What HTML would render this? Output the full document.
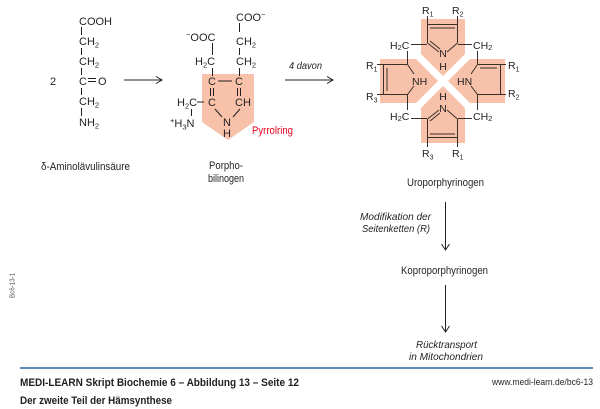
<!DOCTYPE html>
<html><head><meta charset="utf-8"><style>
html,body{margin:0;padding:0;background:#fff;}
svg{display:block;}
text{font-family:"Liberation Sans",sans-serif;fill:#231f20;}
</style></head><body>
<svg width="600" height="409" viewBox="0 0 600 409" xmlns="http://www.w3.org/2000/svg">
<g font-size="11">
<!-- δ-Aminolävulinsäure -->
<text x="50" y="85">2</text>
<text x="79" y="25">COOH</text>
<text x="79" y="45">CH<tspan font-size="7.5" dy="2.5">2</tspan></text>
<text x="79" y="65">CH<tspan font-size="7.5" dy="2.5">2</tspan></text>
<text x="79" y="85">C</text>
<text x="98" y="85">O</text>
<text x="79" y="105">CH<tspan font-size="7.5" dy="2.5">2</tspan></text>
<text x="79" y="126">NH<tspan font-size="7.5" dy="2.5">2</tspan></text>
</g>
<g stroke="#231f20" stroke-width="1" fill="none">
<line x1="81.5" y1="27" x2="81.5" y2="35"/>
<line x1="81.5" y1="48" x2="81.5" y2="55"/>
<line x1="81.5" y1="68" x2="81.5" y2="75"/>
<line x1="88" y1="78.5" x2="96" y2="78.5"/>
<line x1="88" y1="81.5" x2="96" y2="81.5"/>
<line x1="81.5" y1="88" x2="81.5" y2="95"/>
<line x1="81.5" y1="108" x2="81.5" y2="116"/>
<!-- arrow 1 -->
<line x1="124" y1="80" x2="161" y2="80"/>
<polyline points="156,76.5 162,80 156,83.5"/>
<!-- arrow 2 -->
<line x1="285" y1="80" x2="332" y2="80"/>
<polyline points="327,76.5 333,80 327,83.5"/>
</g>
<text x="41" y="170" font-size="11" textLength="89" lengthAdjust="spacingAndGlyphs">δ-Aminolävulinsäure</text>

<!-- Porphobilinogen -->
<polygon points="202,74 254,74 254,122 228,140 202,122" fill="#f7c2a9"/>
<g font-size="11">
<text x="236" y="21">COO<tspan font-size="7.5" dy="-4">−</tspan></text>
<text x="236" y="45">CH<tspan font-size="7.5" dy="2.5">2</tspan></text>
<text x="236" y="65">CH<tspan font-size="7.5" dy="2.5">2</tspan></text>
<text x="186" y="41"><tspan font-size="7.5" dy="-4">−</tspan><tspan dy="4">OOC</tspan></text>
<text x="195" y="65">H<tspan font-size="7.5" dy="2.5">2</tspan><tspan dy="-2.5">C</tspan></text>
<text x="208" y="85">C</text>
<text x="235" y="85">C</text>
<text x="208" y="106">C</text>
<text x="235" y="106">CH</text>
<text x="177" y="106">H<tspan font-size="7.5" dy="2.5">2</tspan><tspan dy="-2.5">C</tspan></text>
<text x="170" y="127"><tspan font-size="7.5" dy="-4">+</tspan><tspan dy="4">H</tspan><tspan font-size="7.5" dy="2.5">3</tspan><tspan dy="-2.5">N</tspan></text>
<text x="223" y="126">N</text>
<text x="223" y="137">H</text>
</g>
<text x="252" y="134" font-size="11" fill="#e2001a" style="fill:#e2001a" textLength="41" lengthAdjust="spacingAndGlyphs">Pyrrolring</text>
<g stroke="#231f20" stroke-width="1" fill="none">
<line x1="239.5" y1="23" x2="239.5" y2="32"/>
<line x1="239.5" y1="48" x2="239.5" y2="55"/>
<line x1="239.5" y1="68" x2="239.5" y2="76"/>
<line x1="212.5" y1="43" x2="212.5" y2="55"/>
<line x1="212.5" y1="68" x2="212.5" y2="76"/>
<line x1="218" y1="81" x2="232" y2="81"/>
<line x1="210.5" y1="88" x2="210.5" y2="96"/>
<line x1="213.5" y1="88" x2="213.5" y2="96"/>
<line x1="237.5" y1="88" x2="237.5" y2="96"/>
<line x1="240.5" y1="88" x2="240.5" y2="96"/>
<line x1="197" y1="102" x2="204" y2="102"/>
<line x1="191.5" y1="109" x2="191.5" y2="116"/>
<line x1="215" y1="109" x2="222" y2="117"/>
<line x1="240" y1="109" x2="233" y2="117"/>
</g>
<text x="226" y="169" font-size="11" text-anchor="middle" textLength="34" lengthAdjust="spacingAndGlyphs">Porpho-</text>
<text x="226" y="182" font-size="11" text-anchor="middle" textLength="36" lengthAdjust="spacingAndGlyphs">bilinogen</text>
<text x="289" y="69" font-size="10" font-style="italic" textLength="33" lengthAdjust="spacingAndGlyphs">4 davon</text>

<!-- Uroporphyrinogen -->
<polygon points="421,19 465,19 465,59 505,59 505,103 465,103 465,143 421,143 421,103 380,103 380,59 421,59" fill="#f7c2a9"/>
<g stroke="#fff" stroke-width="7">
<line x1="408" y1="46" x2="478" y2="116"/>
<line x1="478" y1="46" x2="408" y2="116"/>
</g>
<g stroke="#3a2e2a" stroke-width="1" fill="none">
<!-- top ring -->
<line x1="427.5" y1="16" x2="427.5" y2="43"/>
<line x1="457.5" y1="16" x2="457.5" y2="43"/>
<line x1="427" y1="24.5" x2="458" y2="24.5"/>
<line x1="430" y1="28" x2="455" y2="28"/>
<line x1="427.5" y1="43" x2="439" y2="52"/>
<line x1="430" y1="41" x2="440" y2="49"/>
<line x1="457.5" y1="43" x2="447" y2="52"/>
<line x1="411" y1="44.5" x2="427" y2="44.5"/>
<line x1="458" y1="44.5" x2="472" y2="44.5"/>
<!-- bottom ring -->
<line x1="427.5" y1="119" x2="427.5" y2="147"/>
<line x1="457.5" y1="119" x2="457.5" y2="147"/>
<line x1="427" y1="137.5" x2="458" y2="137.5"/>
<line x1="430" y1="134" x2="455" y2="134"/>
<line x1="427.5" y1="119" x2="439" y2="110"/>
<line x1="430" y1="121" x2="440" y2="113"/>
<line x1="457.5" y1="119" x2="447" y2="110"/>
<line x1="411" y1="118.5" x2="427" y2="118.5"/>
<line x1="458" y1="118.5" x2="472" y2="118.5"/>
<!-- left ring -->
<line x1="407.5" y1="51" x2="407.5" y2="64"/>
<line x1="407.5" y1="94" x2="407.5" y2="110"/>
<line x1="377" y1="64.5" x2="407.5" y2="64.5"/>
<line x1="377" y1="94.5" x2="407.5" y2="94.5"/>
<line x1="383.5" y1="64.5" x2="383.5" y2="94.5"/>
<line x1="387" y1="68" x2="387" y2="91"/>
<line x1="407.5" y1="64.5" x2="414" y2="74"/>
<line x1="407.5" y1="94.5" x2="414" y2="86"/>
<!-- right ring -->
<line x1="477.5" y1="51" x2="477.5" y2="64"/>
<line x1="477.5" y1="94" x2="477.5" y2="110"/>
<line x1="477.5" y1="64.5" x2="506" y2="64.5"/>
<line x1="480" y1="68" x2="497" y2="68"/>
<line x1="477.5" y1="94.5" x2="506" y2="94.5"/>
<line x1="500.5" y1="64.5" x2="500.5" y2="94.5"/>
<line x1="477.5" y1="64.5" x2="471" y2="74"/>
<line x1="477.5" y1="94.5" x2="471" y2="86"/>
</g>
<g font-size="10.5">
<text x="422" y="14">R<tspan font-size="7" dy="2.5">1</tspan></text>
<text x="452" y="14">R<tspan font-size="7" dy="2.5">2</tspan></text>
<text x="422" y="157">R<tspan font-size="7" dy="2.5">3</tspan></text>
<text x="452" y="157">R<tspan font-size="7" dy="2.5">1</tspan></text>
<text x="366" y="69">R<tspan font-size="7" dy="2.5">1</tspan></text>
<text x="366" y="100">R<tspan font-size="7" dy="2.5">3</tspan></text>
<text x="508" y="69">R<tspan font-size="7" dy="2.5">1</tspan></text>
<text x="508" y="97">R<tspan font-size="7" dy="2.5">2</tspan></text>
<text x="390" y="49">H<tspan font-size="7.5" dy="1">2</tspan><tspan dy="-1">C</tspan></text>
<text x="473" y="49">CH<tspan font-size="7.5" dy="1">2</tspan></text>
<text x="390" y="120">H<tspan font-size="7.5" dy="1">2</tspan><tspan dy="-1">C</tspan></text>
<text x="473" y="120">CH<tspan font-size="7.5" dy="1">2</tspan></text>
<text x="443" y="57" text-anchor="middle">N</text>
<text x="443" y="70" text-anchor="middle">H</text>
<text x="443" y="100" text-anchor="middle">H</text>
<text x="443" y="112" text-anchor="middle">N</text>
<text x="412" y="85">NH</text>
<text x="457" y="85">HN</text>
</g>
<text x="407" y="186" font-size="11" textLength="77" lengthAdjust="spacingAndGlyphs">Uroporphyrinogen</text>

<!-- right column -->
<g stroke="#231f20" stroke-width="1" fill="none">
<line x1="445.5" y1="202" x2="445.5" y2="250"/>
<polyline points="441.5,244 445.5,250 449.5,244"/>
<line x1="445.5" y1="285" x2="445.5" y2="332"/>
<polyline points="441.5,326 445.5,332 449.5,326"/>
</g>
<text x="360" y="220" font-size="10.5" font-style="italic" textLength="71" lengthAdjust="spacingAndGlyphs">Modifikation der</text>
<text x="362" y="232" font-size="10.5" font-style="italic" textLength="68" lengthAdjust="spacingAndGlyphs">Seitenketten (R)</text>
<text x="401" y="274" font-size="11" textLength="87" lengthAdjust="spacingAndGlyphs">Koproporphyrinogen</text>
<text x="416" y="348" font-size="10.5" font-style="italic" textLength="61" lengthAdjust="spacingAndGlyphs">Rücktransport</text>
<text x="409" y="360" font-size="10.5" font-style="italic" textLength="74" lengthAdjust="spacingAndGlyphs">in Mitochondrien</text>

<!-- side label -->
<text x="0" y="0" font-size="7" fill="#555" style="fill:#555" transform="translate(14.5,298) rotate(-90)" textLength="25" lengthAdjust="spacingAndGlyphs">Bc6-13-1</text>

<!-- footer -->
<line x1="20" y1="368" x2="593" y2="368" stroke="#2c64ae" stroke-width="1.5"/>
<text x="20" y="386" font-size="11" font-weight="bold" textLength="279" lengthAdjust="spacingAndGlyphs">MEDI-LEARN Skript Biochemie 6 – Abbildung 13 – Seite 12</text>
<text x="20" y="404" font-size="11" font-weight="bold" textLength="152" lengthAdjust="spacingAndGlyphs">Der zweite Teil der Hämsynthese</text>
<text x="492" y="385" font-size="9.5" textLength="101" lengthAdjust="spacingAndGlyphs">www.medi-learn.de/bc6-13</text>
</svg>
</body></html>
